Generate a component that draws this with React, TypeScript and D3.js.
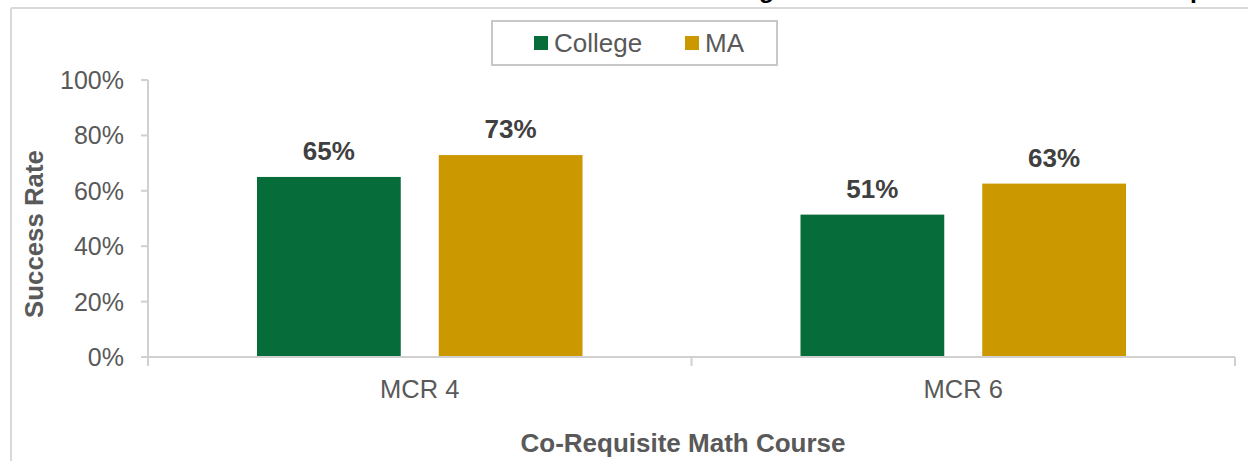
import React from "react";
import * as d3 from "d3";

const categories = ["MCR 4", "MCR 6"];
const seriesNames = ["College", "MA"];
const collegeValues = [0.65, 0.514];
const maValues = [0.729, 0.626];
const seriesColors = ["#066C3A", "#CB9800"];
const yTicks = [0, 0.2, 0.4, 0.6, 0.8, 1.0];
const titleText = "Success Rates among MA Students in Math Courses Compared to College";
const xTitle = "Co-Requisite Math Course";
const yTitle = "Success Rate";

const W = 1248;
const H = 461;
const FONT = "Arial, 'Liberation Sans', Helvetica, sans-serif";

export default function App() {
  const plotLeft = 148;
  const plotRight = 1235;
  const plotTop = 80;
  const plotBottom = 357;

  const x0 = d3.scaleBand<string>().domain(categories).range([plotLeft, plotRight]).padding(0);
  const x1 = d3
    .scaleBand<string>()
    .domain(seriesNames)
    .range([109, x0.bandwidth() - 109])
    .paddingInner(0.209)
    .paddingOuter(0);
  const y = d3.scaleLinear().domain([0, 1]).range([plotBottom, plotTop]);
  const fmt = d3.format(".0%");
  const seriesValues = [collegeValues, maValues];

  const axisColor = "#d0d0d0";
  const textColor = "#595959";

  const catEdges = [...categories.map((c) => x0(c) as number), plotRight];

  return (
    <svg
      width={W}
      height={H}
      style={{ position: "absolute", left: 0, top: 0, fontFamily: FONT }}
    >
      <rect x={0} y={0} width={W} height={H} fill="#ffffff" />
      {/* clipped title */}
      <text x={513} y={-2} fontSize={24.6} fontWeight="bold" fill="#000000">
        {titleText}
      </text>
      {/* chart frame */}
      <line x1={11} y1={8} x2={W + 5} y2={8} stroke="#d9d9d9" strokeWidth={2} />
      <line x1={11} y1={8} x2={11} y2={H + 5} stroke="#d9d9d9" strokeWidth={2} />

      {/* legend */}
      <rect x={492} y={21} width={285} height={44} fill="#ffffff" stroke="#c8c8c8" strokeWidth={2} />
      {seriesNames.map((s, i) => {
        const lx = i === 0 ? 534 : 685;
        return (
          <g key={s}>
            <rect x={lx} y={36} width={14} height={14} fill={seriesColors[i]} />
            <text x={lx + 20} y={51.5} fontSize={26} fill={textColor}>
              {s}
            </text>
          </g>
        );
      })}

      {/* y axis */}
      <line x1={plotLeft} y1={plotTop} x2={plotLeft} y2={plotBottom + 8} stroke={axisColor} strokeWidth={2} />
      {yTicks.map((t) => (
        <g key={t}>
          <line x1={plotLeft - 7} y1={y(t)} x2={plotLeft} y2={y(t)} stroke={axisColor} strokeWidth={2} />
          <text
            x={124}
            y={y(t)}
            dy="0.36em"
            textAnchor="end"
            fontSize={25}
            fill={textColor}
          >
            {fmt(t)}
          </text>
        </g>
      ))}

      {/* bars */}
      {categories.map((c, ci) => (
        <g key={c} transform={`translate(${x0(c)},0)`}>
          {seriesNames.map((s, si) => {
            const v = seriesValues[si][ci];
            const bx = x1(s) as number;
            return (
              <g key={s}>
                <rect
                  x={bx}
                  y={y(v)}
                  width={x1.bandwidth()}
                  height={plotBottom - y(v)}
                  fill={seriesColors[si]}
                />
                <text
                  x={bx + x1.bandwidth() / 2}
                  y={y(v) - 17}
                  textAnchor="middle"
                  fontSize={26}
                  fontWeight="bold"
                  fill="#404040"
                >
                  {fmt(v)}
                </text>
              </g>
            );
          })}
        </g>
      ))}

      {/* x axis */}
      <line x1={plotLeft - 7} y1={plotBottom} x2={plotRight} y2={plotBottom} stroke={axisColor} strokeWidth={2} />
      {catEdges.map((e, i) => (
        <line key={i} x1={e} y1={plotBottom} x2={e} y2={plotBottom + 9} stroke={axisColor} strokeWidth={2} />
      ))}
      {categories.map((c) => (
        <text
          key={c}
          x={(x0(c) as number) + x0.bandwidth() / 2}
          y={398}
          textAnchor="middle"
          fontSize={25.5}
          fill={textColor}
        >
          {c}
        </text>
      ))}

      {/* axis titles */}
      <text x={683} y={452} textAnchor="middle" fontSize={26} fontWeight="bold" fill={textColor}>
        {xTitle}
      </text>
      <text
        transform={`translate(43,234) rotate(-90)`}
        textAnchor="middle"
        fontSize={25.8}
        fontWeight="bold"
        fill={textColor}
      >
        {yTitle}
      </text>
    </svg>
  );
}
